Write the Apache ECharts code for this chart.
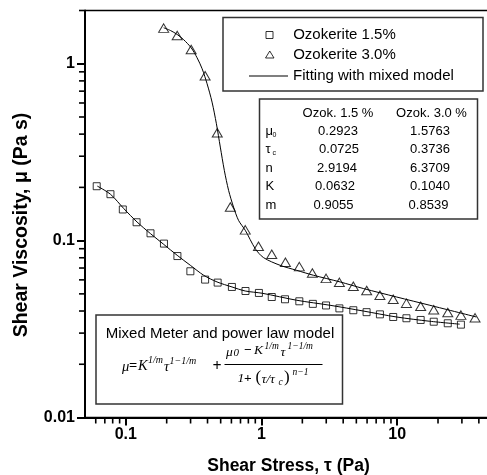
<!DOCTYPE html>
<html>
<head>
<meta charset="utf-8">
<script src="https://cdn.jsdelivr.net/npm/echarts@6/dist/echarts.min.js"></script>
<style>
html,body{margin:0;padding:0;background:#fff;}
#chart{width:487px;height:475px;}
</style>
</head>
<body>
<div id="chart"></div>
<script>
// ---- data ----
const oz15X = [0.061, 0.077, 0.095, 0.12, 0.152, 0.191, 0.24, 0.299, 0.384, 0.475, 0.605, 0.762, 0.957, 1.19, 1.49, 1.90, 2.39, 2.99, 3.75, 4.75, 5.95, 7.46, 9.35, 11.7, 14.9, 18.6, 23.6, 29.5];
const oz15Y = [0.203, 0.183, 0.150, 0.127, 0.110, 0.0962, 0.0818, 0.0671, 0.0602, 0.0579, 0.0547, 0.0519, 0.0506, 0.048, 0.0466, 0.0454, 0.0439, 0.043, 0.0414, 0.0404, 0.0394, 0.0383, 0.037, 0.0364, 0.0356, 0.0348, 0.0341, 0.0335];

const oz30X = [0.19, 0.239, 0.303, 0.384, 0.472, 0.589, 0.759, 0.95, 1.19, 1.5, 1.9, 2.37, 2.99, 3.75, 4.75, 5.96, 7.46, 9.35, 11.7, 14.9, 18.6, 23.6, 29.5, 37.5];
const oz30Y = [1.59, 1.445, 1.205, 0.855, 0.407, 0.155, 0.115, 0.0929, 0.0838, 0.0754, 0.0713, 0.0656, 0.0612, 0.0581, 0.0552, 0.0522, 0.0491, 0.0466, 0.0443, 0.0426, 0.0407, 0.0392, 0.0379, 0.0366];

const fit15X = [0.0616, 0.0772, 0.0967, 0.121, 0.152, 0.190, 0.239, 0.299, 0.375, 0.470, 0.606, 0.759, 1.012, 1.821, 3.20, 5.62, 9.90, 17.4, 28.9];
const fit15Y = [0.2034, 0.1826, 0.1516, 0.1274, 0.1095, 0.0953, 0.0826, 0.0725, 0.0637, 0.0584, 0.0547, 0.0519, 0.0504, 0.0460, 0.0431, 0.0400, 0.0370, 0.0350, 0.0337];

const fit30X = [0.190, 0.213, 0.239, 0.267, 0.303, 0.335, 0.365, 0.397, 0.432, 0.465, 0.497, 0.532, 0.572, 0.622, 0.677, 0.759, 0.899, 1.034, 1.372, 1.821, 2.416, 3.796, 5.633, 9.915, 17.42, 38.35];
const fit30Y = [1.597, 1.542, 1.464, 1.367, 1.231, 1.081, 0.937, 0.771, 0.607, 0.458, 0.338, 0.2496, 0.1924, 0.1548, 0.1302, 0.1144, 0.0901, 0.0802, 0.0725, 0.0679, 0.0637, 0.0584, 0.0536, 0.0480, 0.0431, 0.0370];

const seriesNames = ['Ozokerite 1.5%', 'Ozokerite 3.0%', 'Fitting with mixed model'];

const xMin = 0.05, xMax = 50, yMin = 0.01, yMax = 2;
const xMajorTicks = [0.1, 1, 10];
const xTickLabels = ['0.1', '1', '10'];
const xMinorTicks = [0.06, 0.07, 0.08, 0.09, 0.2, 0.3, 0.4, 0.5, 0.6, 0.7, 0.8, 0.9, 2, 3, 4, 5, 6, 7, 8, 9, 20, 30, 40];
const yMajorTicks = [0.01, 0.1, 1];
const yTickLabels = ['0.01', '0.1', '1'];
const yMinorTicks = [0.02, 0.03, 0.04, 0.05, 0.06, 0.07, 0.08, 0.09, 0.2, 0.3, 0.4, 0.5, 0.6, 0.7, 0.8, 0.9, 2];

const xTitle = 'Shear Stress, τ (Pa)';
const yTitle = 'Shear Viscosity, μ (Pa s)';

const tableHeaders = ['Ozok. 1.5 %', 'Ozok. 3.0 %'];
const tableParams = ['μ', 'τ', 'n', 'K', 'm'];
const tableParamSubs = ['0', 'c', '', '', ''];
const tableCol15 = ['0.2923', '0.0725', '2.9194', '0.0632', '0.9055'];
const tableCol30 = ['1.5763', '0.3736', '6.3709', '0.1040', '0.8539'];

const eqTitle = 'Mixed Meter and power law model';

// ---- build ----
const zip = (xs, ys) => xs.map((x, i) => [x, ys[i]]);
const SANS = 'Liberation Sans, Arial, sans-serif';
const SERIF = 'Liberation Serif, Times New Roman, serif';

const chart = echarts.init(document.getElementById('chart'), null, {renderer: 'canvas'});

function txt(text, x, y, opt) {
  opt = opt || {};
  return {
    type: 'text', x: x, y: y, z: 10, rotation: opt.rot || 0,
    style: {
      text: text,
      fill: '#000',
      fontSize: opt.fs || 13,
      fontFamily: opt.ff || SANS,
      fontStyle: opt.fst || 'normal',
      fontWeight: opt.fw || 'normal',
      align: opt.align || 'left',
      verticalAlign: 'middle'
    }
  };
}

const graphics = [];
graphics.push(txt(yTitle, 21.5, 225, {fs: 19.5, fw: 'bold', align: 'center', rot: Math.PI / 2}));
graphics.push({type: 'rect', z: 5, shape: {x: 223, y: 17.5, width: 260, height: 73.5}, style: {fill: 'none', stroke: '#333', lineWidth: 1.5}});
graphics.push({type: 'rect', z: 5, shape: {x: 259.5, y: 99, width: 218, height: 120}, style: {fill: 'none', stroke: '#333', lineWidth: 1.5}});
const colX1 = [338, 339, 337, 335, 333.5];
const colX2 = [430, 430, 430, 430, 428.5];
const rowY = [131.7, 149.3, 168.3, 186.3, 205];
graphics.push(txt(tableHeaders[0], 338, 113.5, {align: 'center'}));
graphics.push(txt(tableHeaders[1], 431.5, 113.5, {align: 'center'}));
tableParams.forEach((p, i) => {
  graphics.push(txt(p, 265.5, rowY[i], {}));
  if (tableParamSubs[i]) graphics.push(txt(tableParamSubs[i], 272.5, rowY[i] + 3.5, {fs: 7}));
  graphics.push(txt(tableCol15[i], colX1[i], rowY[i], {align: 'center'}));
  graphics.push(txt(tableCol30[i], colX2[i], rowY[i], {align: 'center'}));
});
graphics.push({type: 'rect', z: 5, shape: {x: 96, y: 315, width: 246.5, height: 89}, style: {fill: 'none', stroke: '#333', lineWidth: 1.5}});
graphics.push(txt(eqTitle, 220, 333.5, {fs: 15, align: 'center'}));
const it = (t, x, y, fs) => txt(t, x, y, {fs: fs, ff: SERIF, fst: 'italic'});
graphics.push(it('μ', 122, 367, 14.5));
graphics.push(txt('=', 129, 366, {fs: 14.5, ff: SERIF, fw: 'bold'}));
graphics.push(it('K', 138, 366, 14.5));
graphics.push(it('1/m', 148, 360.5, 10));
graphics.push(it('τ', 164, 367.5, 14.5));
graphics.push(it('1−1/m', 169.5, 361.5, 10));
graphics.push(txt('+', 212.5, 366.5, {fs: 16, ff: SERIF, fw: 'bold'}));
graphics.push(it('μ', 226, 352, 13.5));
graphics.push(it('0', 233.5, 353.5, 11));
graphics.push(txt('−', 244, 351, {fs: 13.5, ff: SERIF, fw: 'bold'}));
graphics.push(it('K', 254, 350.5, 13.5));
graphics.push(it('1/m', 264.5, 346, 9.5));
graphics.push(it('τ', 280.5, 352.5, 13.5));
graphics.push(it('1−1/m', 287.5, 346, 9.5));
graphics.push({type: 'line', z: 10, shape: {x1: 224.5, y1: 364.5, x2: 322.5, y2: 364.5}, style: {stroke: '#000', lineWidth: 1}});
graphics.push(it('1', 237.5, 378.5, 13.5));
graphics.push(txt('+', 244, 378.5, {fs: 13.5, ff: SERIF, fw: 'bold'}));
graphics.push(txt('(', 255.5, 378, {fs: 17, ff: SERIF}));
graphics.push(it('τ/τ', 261.5, 379, 13.5));
graphics.push(it('c', 278.5, 382, 9.5));
graphics.push(txt(')', 284, 378, {fs: 17, ff: SERIF}));
graphics.push(it('n−1', 292.5, 372.5, 9.5));

const legendText = {fontSize: 15, color: '#000', fontFamily: SANS, lineHeight: 15};
const legendItemStyle = {borderWidth: 1, borderColor: '#000', color: 'rgba(0,0,0,0)'};

const option = {
  backgroundColor: '#fff',
  animation: false,
  grid: {
    left: 85, top: 10.5, width: 407, height: 407,
    show: true, borderColor: '#000', borderWidth: 1.5, backgroundColor: 'transparent',
    containLabel: false, outerBoundsMode: 'none'
  },
  legend: [{
    data: [seriesNames[0]], orient: 'vertical', left: 265.5, top: 27.5, padding: 0,
    itemWidth: 7, itemHeight: 7, selectedMode: false, itemStyle: legendItemStyle,
    textStyle: Object.assign({padding: [0, 0, 0, 15.2]}, legendText)
  }, {
    data: [seriesNames[1]], orient: 'vertical', left: 265, top: 47, padding: 0,
    itemWidth: 8.5, itemHeight: 7, selectedMode: false, itemStyle: legendItemStyle,
    textStyle: Object.assign({padding: [0, 0, 0, 14.2]}, legendText)
  }, {
    data: [{name: seriesNames[2], icon: 'rect'}], orient: 'vertical', left: 249, top: 68.5, padding: 0,
    itemWidth: 39, itemHeight: 1.2, selectedMode: false,
    textStyle: legendText
  }],
  xAxis: {
    type: 'log', logBase: 10, min: xMin, max: xMax,
    name: xTitle, nameLocation: 'middle', nameGap: 40,
    nameTextStyle: {fontSize: 17.5, fontWeight: 'bold', color: '#000', fontFamily: SANS},
    axisLine: {show: true, lineStyle: {color: '#000', width: 2}},
    axisTick: {show: true, inside: false, length: 8, lineStyle: {color: '#000', width: 2}, customValues: xMajorTicks},
    axisLabel: {show: true, margin: 9, fontSize: 16, fontWeight: 'bold', color: '#000', fontFamily: SANS,
      customValues: xMajorTicks,
      formatter: v => { const i = xMajorTicks.findIndex(t => Math.abs(t - v) / t < 1e-6); return i >= 0 ? xTickLabels[i] : ''; }},
    splitLine: {show: false}
  },
  yAxis: {
    type: 'log', logBase: 10, min: yMin, max: yMax,
    axisLine: {show: true, lineStyle: {color: '#000', width: 2}},
    axisTick: {show: true, inside: false, length: 8, lineStyle: {color: '#000', width: 2}, customValues: yMajorTicks},
    axisLabel: {show: true, margin: 10, fontSize: 16, fontWeight: 'bold', color: '#000', fontFamily: SANS,
      customValues: yMajorTicks,
      formatter: v => { const i = yMajorTicks.findIndex(t => Math.abs(t - v) / t < 1e-6); return i >= 0 ? yTickLabels[i] : ''; }},
    splitLine: {show: false}
  },
  series: [{
    name: seriesNames[0], type: 'scatter',
    data: zip(oz15X, oz15Y), symbol: 'rect', symbolSize: 7,
    itemStyle: {color: 'rgba(0,0,0,0)', borderColor: '#000', borderWidth: 1}, z: 3
  }, {
    name: seriesNames[1], type: 'scatter',
    data: zip(oz30X, oz30Y), symbol: 'triangle', symbolSize: [10, 8.5],
    itemStyle: {color: 'rgba(0,0,0,0)', borderColor: '#000', borderWidth: 1}, z: 3
  }, {
    name: seriesNames[2], type: 'line',
    data: zip(fit15X, fit15Y), showSymbol: false, symbol: 'none', smooth: 0.3,
    lineStyle: {color: '#000', width: 1}, itemStyle: {color: '#000'}, z: 2
  }, {
    name: seriesNames[2], type: 'line',
    data: zip(fit30X, fit30Y), showSymbol: false, symbol: 'none', smooth: 0.3,
    lineStyle: {color: '#000', width: 1}, itemStyle: {color: '#000'}, z: 2
  }],
  graphic: {elements: graphics}
};
chart.setOption(option);

// minor ticks: pixel positions come from the chart's own log scales
const tickLen = 5;
const minorGraphics = [];
xMinorTicks.forEach(v => {
  const p = chart.convertToPixel({gridIndex: 0}, [v, yMin]);
  minorGraphics.push({type: 'line', z: 20,
    shape: {x1: p[0], y1: p[1] + 1, x2: p[0], y2: p[1] + 1 + tickLen},
    style: {stroke: '#000', lineWidth: 1.6}});
});
yMinorTicks.forEach(v => {
  const p = chart.convertToPixel({gridIndex: 0}, [xMin, v]);
  minorGraphics.push({type: 'line', z: 20,
    shape: {x1: p[0] - 1 - tickLen, y1: p[1], x2: p[0] - 1, y2: p[1]},
    style: {stroke: '#000', lineWidth: 1.6}});
});
option.graphic = {elements: graphics.concat(minorGraphics)};
chart.setOption(option, true);
</script>
</body>
</html>
